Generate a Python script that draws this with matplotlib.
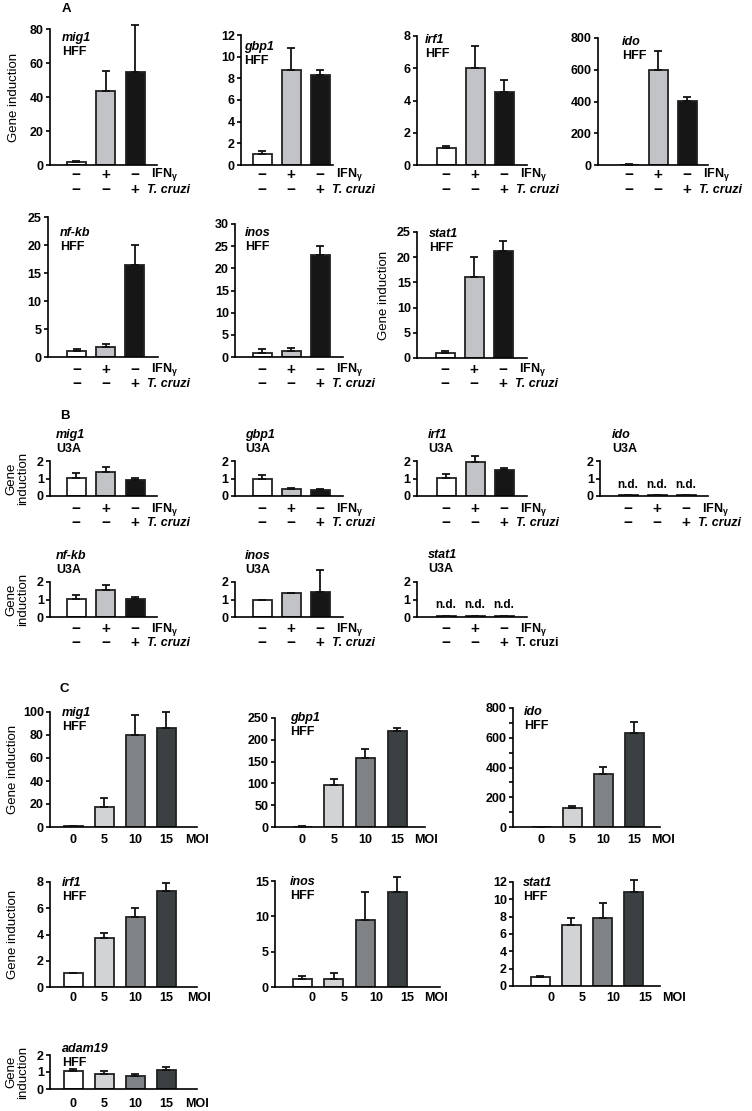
import matplotlib.pyplot as plt
import numpy as np

plt.rcParams['font.family'] = ['Liberation Sans', 'DejaVu Sans']
plt.rcParams['font.weight'] = 'bold'
plt.rcParams['mathtext.default'] = 'regular'

W, H = 752, 1111

# bar colours
ab_colors = ['#ffffff', '#c2c3c6', '#161616']
c_colors = ['#ffffff', '#d2d3d5', '#7f8386', '#3b4043']

ifn_signs = ['\u2212', '+', '\u2212']
tcr_signs = ['\u2212', '\u2212', '+']
moi_labels = ['0', '5', '10', '15']

# ---- A : HFF, IFNg / T. cruzi ----
a_mig1 = [1.5, 43.5, 54.5];   a_mig1_err = [0.8, 11.5, 28.0]
a_gbp1 = [1.0, 8.8, 8.35];    a_gbp1_err = [0.25, 2.0, 0.45]
a_irf1 = [1.05, 6.0, 4.5];    a_irf1_err = [0.15, 1.35, 0.75]
a_ido = [3, 600, 405];        a_ido_err = [3, 120, 25]
a_nfkb = [1.0, 1.8, 16.4];    a_nfkb_err = [0.35, 0.55, 3.6]
a_inos = [1.0, 1.3, 23.0];    a_inos_err = [0.7, 0.7, 2.1]
a_stat1 = [1.0, 16.0, 21.3];  a_stat1_err = [0.4, 4.0, 2.0]

# ---- B : U3A ----
b_mig1 = [1.05, 1.4, 0.9];    b_mig1_err = [0.28, 0.25, 0.15]
b_gbp1 = [1.0, 0.4, 0.35];    b_gbp1_err = [0.2, 0.08, 0.07]
b_irf1 = [1.05, 1.95, 1.5];   b_irf1_err = [0.2, 0.35, 0.12]
b_ido = [0.04, 0.04, 0.04];   b_ido_err = [0, 0, 0]
b_nfkb = [1.05, 1.55, 1.05];  b_nfkb_err = [0.2, 0.3, 0.1]
b_inos = [1.0, 1.4, 1.45];    b_inos_err = [0, 0, 1.25]
b_stat1 = [0.04, 0.04, 0.04]; b_stat1_err = [0, 0, 0]

# ---- C : HFF, MOI ----
c_mig1 = [0.5, 17, 80, 86];       c_mig1_err = [0.3, 8, 17, 14]
c_gbp1 = [1, 97, 158, 221];       c_gbp1_err = [0.5, 13, 20, 7]
c_ido = [0, 130, 355, 635];       c_ido_err = [0, 8, 50, 70]
c_irf1 = [1.1, 3.7, 5.35, 7.3];   c_irf1_err = [0, 0.4, 0.65, 0.6]
c_inos = [1.2, 1.1, 9.5, 13.5];   c_inos_err = [0.4, 0.9, 4.0, 2.0]
c_stat1 = [1.0, 7.0, 7.8, 10.9];  c_stat1_err = [0.1, 0.9, 1.8, 1.3]
c_adam19 = [1.05, 0.88, 0.78, 1.12]; c_adam19_err = [0.12, 0.15, 0.12, 0.17]

fig = plt.figure(figsize=(W / 100, H / 100), dpi=100)

FS = 9  # base text size


def panel(box, vals, errs, colors, ymax, step, gene, cell, tpos, ylabel=None, ylab_x=15, minor=None):
    spine, end, top, zero, c0, pitch = box
    ax = fig.add_axes([spine / W, 1 - zero / H, (end - spine) / W, (zero - top) / H])
    x = np.arange(len(vals))
    ax.set_xlim((spine - c0) / pitch, (end - c0) / pitch)
    ax.set_ylim(0, ymax)
    ax.bar(x, vals, width=19 / pitch, color=colors, edgecolor='#222222', linewidth=1.3, zorder=2)
    eb = ax.errorbar(x, vals, yerr=[np.zeros(len(vals)), errs], fmt='none', ecolor='#111111',
                     elinewidth=1.3, capsize=3, capthick=1.3, zorder=3)
    for art in eb.lines[1] + eb.lines[2]:
        art.set_clip_on(False)
    ax.spines[['top', 'right']].set_visible(False)
    ax.spines[['left', 'bottom']].set_linewidth(1.2)
    ax.set_xticks([])
    ax.set_yticks(np.arange(0, ymax + step / 2, step))
    if minor:
        ax.set_yticks(np.arange(0, ymax, minor), minor=True)
    ax.tick_params(axis='y', which='both', length=3, width=1.2, pad=1.5, labelsize=FS)
    tx, ty = tpos
    ax.annotate(gene, xy=(0, 1), xycoords='axes fraction', xytext=(tx, -ty),
                textcoords='offset pixels', style='italic', fontsize=FS, va='center')
    ax.annotate(cell, xy=(0, 1), xycoords='axes fraction', xytext=(tx, -ty - 14),
                textcoords='offset pixels', fontsize=FS, va='center')
    if ylabel:
        lab = ax.set_ylabel(ylabel, fontsize=9.5, linespacing=1.0)
        lab.set_va('center')
        ax.yaxis.set_label_coords((ylab_x - spine) / (end - spine), 0.5)
    return ax


def signs(ax, y1, y2, ifn_dx=0.55, tcr_dx=0.42, roman=False):
    for i in range(3):
        ax.annotate(ifn_signs[i], xy=(i, H - y1), xycoords=('data', 'figure pixels'),
                    ha='center', va='center', fontsize=11)
        ax.annotate(tcr_signs[i], xy=(i, H - y2), xycoords=('data', 'figure pixels'),
                    ha='center', va='center', fontsize=11)
    ax.annotate('IFN$_{\\gamma}$', xy=(2 + ifn_dx, H - y1), xycoords=('data', 'figure pixels'),
                ha='left', va='center', fontsize=FS)
    ax.annotate('T. cruzi', xy=(2 + tcr_dx, H - y2), xycoords=('data', 'figure pixels'),
                ha='left', va='center', fontsize=FS, style='normal' if roman else 'italic')


def moi(ax, y, shift=0.0, moi_dx=1.0):
    for i, lab in enumerate(moi_labels):
        ax.annotate(lab, xy=(i + shift, H - y), xycoords=('data', 'figure pixels'),
                    ha='center', va='center', fontsize=FS)
    ax.annotate('MOI', xy=(3 + moi_dx, H - y), xycoords=('data', 'figure pixels'),
                ha='center', va='center', fontsize=FS)


def nd(ax, y):
    for i in range(3):
        ax.text(i, y, 'n.d.', ha='center', va='center', fontsize=8.5)


# panel letters
fig.text(62 / W, 1 - 9 / H, 'A', fontsize=9.5, va='center')
fig.text(60 / W, 1 - 416 / H, 'B', fontsize=9.5, va='center')
fig.text(60 / W, 1 - 689 / H, 'C', fontsize=9.5, va='center')

# ---- A row 1 ----
ax = panel((50, 157, 29, 165, 76, 29.5), a_mig1, a_mig1_err, ab_colors, 80, 20,
           'mig1', 'HFF', (12, 9), ylabel='Gene induction', ylab_x=14)
signs(ax, 175, 190)
ax = panel((241, 333, 35, 165, 262, 29), a_gbp1, a_gbp1_err, ab_colors, 12, 2,
           'gbp1', 'HFF', (3, 12))
signs(ax, 175, 190)
ax = panel((417, 527, 36, 165, 446, 29), a_irf1, a_irf1_err, ab_colors, 8, 2,
           'irf1', 'HFF', (8, 4))
signs(ax, 175, 190)
ax = panel((598, 708, 38, 165, 629, 29), a_ido, a_ido_err, ab_colors, 800, 200,
           'ido', 'HFF', (24, 4))
signs(ax, 175, 190)

# ---- A row 2 ----
ax = panel((48, 158, 217, 357, 77, 29), a_nfkb, a_nfkb_err, ab_colors, 25, 5,
           'nf-kb', 'HFF', (12, 16))
signs(ax, 370, 384)
ax = panel((235, 343, 224, 357, 262, 29), a_inos, a_inos_err, ab_colors, 30, 5,
           'inos', 'HFF', (10, 9))
signs(ax, 370, 384)
ax = panel((417, 527, 232, 358, 445, 29), a_stat1, a_stat1_err, ab_colors, 25, 5,
           'stat1', 'HFF', (12, 2), ylabel='Gene induction', ylab_x=384)
signs(ax, 370, 384)

# ---- B row 1 ----
ax = panel((50, 157, 461, 496, 76, 29.5), b_mig1, b_mig1_err, ab_colors, 2, 1,
           'mig1', 'U3A', (6, -26), ylabel='Gene\ninduction', ylab_x=17)
signs(ax, 509, 523)
ax = panel((235, 343, 461, 496, 262, 29), b_gbp1, b_gbp1_err, ab_colors, 2, 1,
           'gbp1', 'U3A', (10, -26))
signs(ax, 509, 523)
ax = panel((417, 527, 461, 496, 446, 29), b_irf1, b_irf1_err, ab_colors, 2, 1,
           'irf1', 'U3A', (11, -26))
signs(ax, 509, 523)
ax = panel((600, 708, 461, 496, 628, 29), b_ido, b_ido_err, ab_colors, 2, 1,
           'ido', 'U3A', (12, -26))
nd(ax, 0.6)
signs(ax, 509, 523)

# ---- B row 2 ----
ax = panel((50, 157, 582, 617, 76, 29.5), b_nfkb, b_nfkb_err, ab_colors, 2, 1,
           'nf-kb', 'U3A', (6, -26), ylabel='Gene\ninduction', ylab_x=17)
signs(ax, 629, 643)
ax = panel((235, 343, 582, 617, 262, 29), b_inos, b_inos_err, ab_colors, 2, 1,
           'inos', 'U3A', (10, -26))
signs(ax, 629, 643)
ax = panel((417, 527, 582, 617, 446, 29), b_stat1, b_stat1_err, ab_colors, 2, 1,
           'stat1', 'U3A', (11, -27))
nd(ax, 0.7)
signs(ax, 629, 643, roman=True)

# ---- C row 1 ----
ax = panel((50, 197, 712, 827, 73, 31), c_mig1, c_mig1_err, c_colors, 100, 20,
           'mig1', 'HFF', (12, 1), ylabel='Gene induction', ylab_x=13)
moi(ax, 840, moi_dx=1.0)
ax = panel((275, 425, 718, 827, 302, 31.7), c_gbp1, c_gbp1_err, c_colors, 250, 50,
           'gbp1', 'HFF', (15, 0))
moi(ax, 840, moi_dx=0.9)
ax = panel((513, 660, 708, 827, 541, 31), c_ido, c_ido_err, c_colors, 800, 200,
           'ido', 'HFF', (11, 4), minor=100)
moi(ax, 840, moi_dx=0.95)

# ---- C row 2 ----
ax = panel((50, 197, 882, 987, 73, 31), c_irf1, c_irf1_err, c_colors, 8, 2,
           'irf1', 'HFF', (12, 1), ylabel='Gene induction', ylab_x=13)
moi(ax, 998, moi_dx=1.05)
ax = panel((275, 440, 881, 987, 302, 31.7), c_inos, c_inos_err, c_colors, 15, 5,
           'inos', 'HFF', (15, 1))
moi(ax, 998, shift=0.33, moi_dx=1.22)
ax = panel((513, 660, 882, 986, 540, 31.3), c_stat1, c_stat1_err, c_colors, 12, 2,
           'stat1', 'HFF', (10, 1))
moi(ax, 998, shift=0.35, moi_dx=1.27)

# ---- C adam19 ----
ax = panel((50, 197, 1055, 1089, 73, 31), c_adam19, c_adam19_err, c_colors, 2, 1,
           'adam19', 'HFF', (12, -6), ylabel='Gene\ninduction', ylab_x=17)
moi(ax, 1104, moi_dx=1.0)

fig.savefig('out.png', dpi=100)
